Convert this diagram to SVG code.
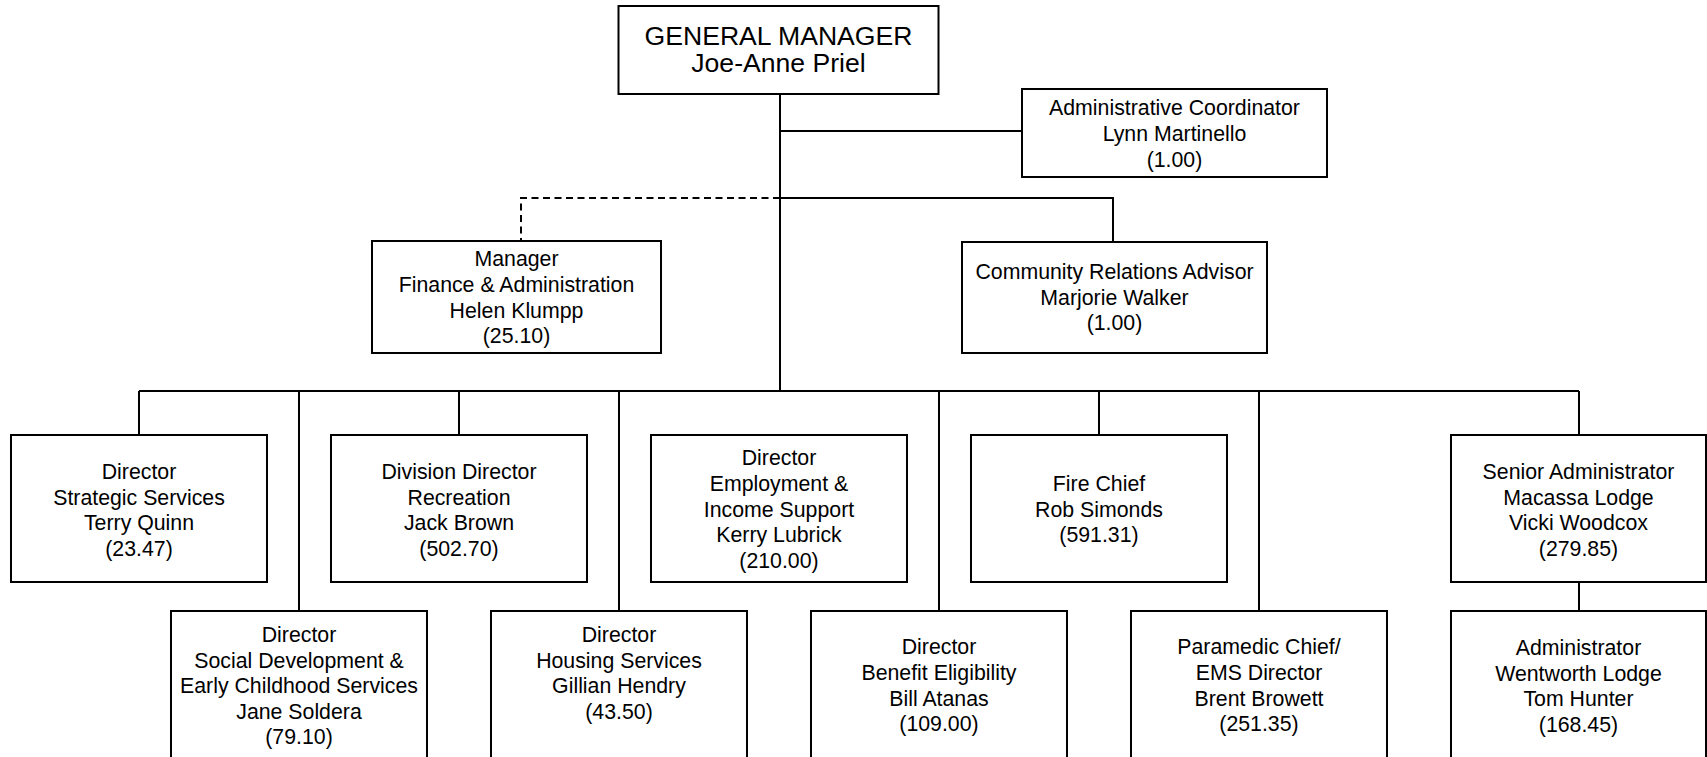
<svg xmlns="http://www.w3.org/2000/svg" width="1707" height="757" viewBox="0 0 1707 757">
<style>
.box{fill:#fff;stroke:#000;stroke-width:2}
.t{font-family:"Liberation Sans",Arial,sans-serif;font-size:21.3px;fill:#000;text-anchor:middle}
.big{font-size:26.6px}
.ln{fill:none;stroke:#000;stroke-width:2}
.dash{fill:none;stroke:#000;stroke-width:2;stroke-dasharray:7 4.5}
</style>
<rect width="1707" height="757" fill="#fff"/>
<g id="connectors">
<path class="ln" d="M780 94V391"/>
<path class="ln" d="M780 131H1022"/>
<path class="ln" d="M780 198H1113V242"/>
<path class="dash" d="M780 198H521V241"/>
<path class="ln" d="M139 391H1579"/>
<path class="ln" d="M139 391V435M459 391V435M1099 391V435M1579 391V435"/>
<path class="ln" d="M299 391V611M619 391V611M939 391V611M1259 391V611"/>
<path class="ln" d="M1579 582V611"/>
</g>
<g id="gm">
<rect class="box" x="618.5" y="6" width="320" height="88"/>
<text class="t big" x="778.5" y="45">GENERAL MANAGER</text>
<text class="t big" x="778.5" y="72">Joe-Anne Priel</text>
</g>
<g id="admin">
<rect class="box" x="1022" y="89" width="305" height="88"/>
<text class="t" x="1174.5" y="115">Administrative Coordinator</text>
<text class="t" x="1174.5" y="141">Lynn Martinello</text>
<text class="t" x="1174.5" y="166.5">(1.00)</text>
</g>
<g id="finance">
<rect class="box" x="372" y="241" width="289" height="112"/>
<text class="t" x="516.5" y="266">Manager</text>
<text class="t" x="516.5" y="292">Finance &amp; Administration</text>
<text class="t" x="516.5" y="317.5">Helen Klumpp</text>
<text class="t" x="516.5" y="343">(25.10)</text>
</g>
<g id="community">
<rect class="box" x="962" y="242" width="305" height="111"/>
<text class="t" x="1114.5" y="279">Community Relations Advisor</text>
<text class="t" x="1114.5" y="305">Marjorie Walker</text>
<text class="t" x="1114.5" y="330">(1.00)</text>
</g>
<g id="strategic">
<rect class="box" x="11" y="435" width="256" height="147"/>
<text class="t" x="139" y="479">Director</text>
<text class="t" x="139" y="505">Strategic Services</text>
<text class="t" x="139" y="530">Terry Quinn</text>
<text class="t" x="139" y="556">(23.47)</text>
</g>
<g id="recreation">
<rect class="box" x="331" y="435" width="256" height="147"/>
<text class="t" x="459" y="479">Division Director</text>
<text class="t" x="459" y="505">Recreation</text>
<text class="t" x="459" y="530">Jack Brown</text>
<text class="t" x="459" y="556">(502.70)</text>
</g>
<g id="employment">
<rect class="box" x="651" y="435" width="256" height="147"/>
<text class="t" x="779" y="465">Director</text>
<text class="t" x="779" y="491">Employment &amp;</text>
<text class="t" x="779" y="516.5">Income Support</text>
<text class="t" x="779" y="542">Kerry Lubrick</text>
<text class="t" x="779" y="568">(210.00)</text>
</g>
<g id="fire">
<rect class="box" x="971" y="435" width="256" height="147"/>
<text class="t" x="1099" y="491">Fire Chief</text>
<text class="t" x="1099" y="516.5">Rob Simonds</text>
<text class="t" x="1099" y="542">(591.31)</text>
</g>
<g id="macassa">
<rect class="box" x="1451" y="435" width="255" height="147"/>
<text class="t" x="1578.5" y="479">Senior Administrator</text>
<text class="t" x="1578.5" y="505">Macassa Lodge</text>
<text class="t" x="1578.5" y="530">Vicki Woodcox</text>
<text class="t" x="1578.5" y="556">(279.85)</text>
</g>
<g id="social">
<rect class="box" x="171" y="611" width="256" height="170"/>
<text class="t" x="299" y="642">Director</text>
<text class="t" x="299" y="667.5">Social Development &amp;</text>
<text class="t" x="299" y="693">Early Childhood Services</text>
<text class="t" x="299" y="718.5">Jane Soldera</text>
<text class="t" x="299" y="744">(79.10)</text>
</g>
<g id="housing">
<rect class="box" x="491" y="611" width="256" height="170"/>
<text class="t" x="619" y="642">Director</text>
<text class="t" x="619" y="667.5">Housing Services</text>
<text class="t" x="619" y="693">Gillian Hendry</text>
<text class="t" x="619" y="718.5">(43.50)</text>
</g>
<g id="benefit">
<rect class="box" x="811" y="611" width="256" height="170"/>
<text class="t" x="939" y="654">Director</text>
<text class="t" x="939" y="680">Benefit Eligibility</text>
<text class="t" x="939" y="705.5">Bill Atanas</text>
<text class="t" x="939" y="731">(109.00)</text>
</g>
<g id="paramedic">
<rect class="box" x="1131" y="611" width="256" height="170"/>
<text class="t" x="1259" y="654">Paramedic Chief/</text>
<text class="t" x="1259" y="680">EMS Director</text>
<text class="t" x="1259" y="705.5">Brent Browett</text>
<text class="t" x="1259" y="731">(251.35)</text>
</g>
<g id="wentworth">
<rect class="box" x="1451" y="611" width="255" height="170"/>
<text class="t" x="1578.5" y="655">Administrator</text>
<text class="t" x="1578.5" y="680.5">Wentworth Lodge</text>
<text class="t" x="1578.5" y="706">Tom Hunter</text>
<text class="t" x="1578.5" y="731.5">(168.45)</text>
</g>
</svg>
